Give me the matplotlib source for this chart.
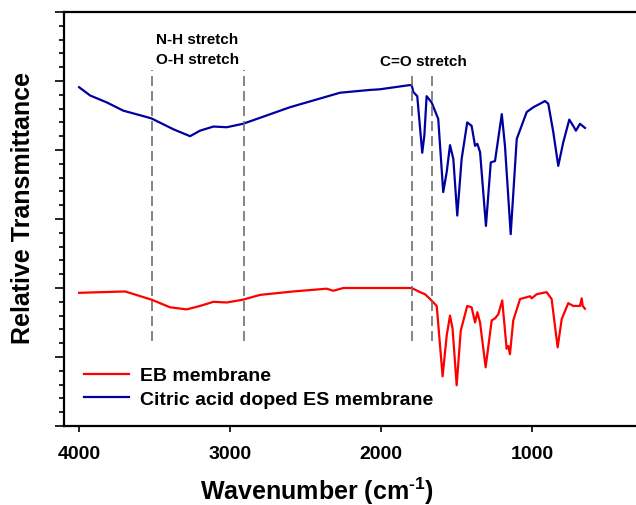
import matplotlib.pyplot as plt
from matplotlib.ticker import MultipleLocator, NullFormatter

plt.rcParams["font.family"] = ["Liberation Sans", "DejaVu Sans"]
plt.rcParams["font.weight"] = "bold"
plt.rcParams["mathtext.fontset"] = "custom"
plt.rcParams["mathtext.rm"] = "Liberation Sans:bold"
plt.rcParams["mathtext.bf"] = "Liberation Sans:bold"

# citric acid doped ES membrane (blue)
es_wn = [4000, 3927, 3817, 3707, 3523, 3375, 3265, 3199, 3110, 3022, 2914, 2823,
         2603, 2382, 2272, 2077, 2007, 1812, 1797, 1786, 1760, 1727, 1713, 1698,
         1665, 1621, 1588, 1565, 1543, 1521, 1495, 1466, 1429, 1400, 1377, 1362,
         1344, 1305, 1273, 1245, 1200, 1179, 1141, 1101, 1035, 991, 947, 914, 892,
         859, 826, 793, 753, 727, 709, 682, 649]
es_t = [49.1, 47.9, 46.9, 45.7, 44.6, 43.0, 42.0, 42.8, 43.4, 43.3, 43.8, 44.5,
        46.2, 47.6, 48.3, 48.7, 48.8, 49.4, 49.4, 48.4, 47.8, 39.6, 42.1, 47.8,
        46.9, 44.5, 33.9, 36.8, 40.7, 38.7, 30.5, 38.7, 44.0, 43.5, 40.6, 40.9,
        39.7, 29.0, 38.2, 38.4, 45.2, 40.6, 27.8, 41.6, 45.5, 46.2, 46.7, 47.1, 46.7,
        42.6, 37.7, 41.1, 44.4, 43.5, 42.8, 43.8, 43.2]

# EB membrane (red)
eb_wn = [4000, 3695, 3519, 3397, 3287, 3199, 3110, 3022, 2916, 2801, 2581, 2360,
         2316, 2250, 1918, 1797, 1742, 1709, 1675, 1631, 1592, 1565, 1543, 1526,
         1499, 1472, 1429, 1400, 1377, 1362, 1344, 1307, 1267, 1245, 1223, 1197,
         1168, 1157, 1146, 1124, 1079, 1013, 1002, 969, 903, 870, 830, 803, 760,
         727, 682, 671, 664, 649]
eb_t = [19.3, 19.5, 18.3, 17.2, 16.9, 17.4, 18.0, 17.9, 18.3, 19.0, 19.5, 19.9,
        19.6, 20.0, 20.0, 20.0, 19.4, 19.1, 18.4, 17.4, 7.2, 13.1, 16.0, 14.1,
        5.9, 13.8, 17.4, 17.2, 15.0, 16.5, 15.0, 8.5, 15.3, 15.6, 16.2, 18.2,
        11.2, 11.6, 10.4, 15.3, 18.4, 18.8, 18.5, 19.1, 19.4, 18.4, 11.4, 15.5, 17.8,
        17.4, 17.4, 18.5, 17.4, 17.0]

nh_lines = [3520, 2910]
co_lines = [1795, 1660]

fig = plt.figure(figsize=(6.36, 5.06), dpi=100)
ax = fig.add_axes([64 / 636, 79 / 506, 572 / 636, 414 / 506])

ax.plot(eb_wn, eb_t, color="#ff0000", lw=1.6, label="EB membrane")
ax.plot(es_wn, es_t, color="#0000a0", lw=1.6, label="Citric acid doped ES membrane")

for w in nh_lines:
    ax.plot([w, w], [12.3, 51.6], color="#707070", lw=1.2, dashes=(6, 3))
for w in co_lines:
    ax.plot([w, w], [12.3, 50.9], color="#707070", lw=1.2, dashes=(6, 3))

ax.text(3215, 56.1, "N-H stretch", ha="center", va="center", fontsize=11, fontweight="bold")
ax.text(3215, 53.2, "O-H stretch", ha="center", va="center", fontsize=11, fontweight="bold")
ax.text(1722, 52.9, "C=O stretch", ha="center", va="center", fontsize=11, fontweight="bold")

ax.set_xlim(4100, 311)
ax.set_ylim(0, 60)
ax.set_xticks([4000, 3000, 2000, 1000])
ax.yaxis.set_major_locator(MultipleLocator(10))
ax.yaxis.set_minor_locator(MultipleLocator(2))
ax.yaxis.set_major_formatter(NullFormatter())
ax.tick_params(axis="x", which="major", direction="out", length=4, width=1.2,
               labelsize=14, pad=10)
ax.tick_params(axis="y", which="major", direction="out", length=6.5, width=1.2)
ax.tick_params(axis="y", which="minor", direction="out", length=3.5, width=1.2)
for lab in ax.get_xticklabels():
    lab.set_fontweight("bold")

ax.spines["right"].set_visible(False)
for s in ["left", "bottom", "top"]:
    ax.spines[s].set_linewidth(1.6)

ax.set_xlabel(r"Wavenumber (cm$^{\text{-1}}$)", fontsize=18, fontweight="bold")
ax.xaxis.set_label_coords((317 - 64) / 572, (427 - 491) / 414)
ax.xaxis.label.set_va("center")
ax.set_ylabel("Relative Transmittance", fontsize=18, fontweight="bold")
ax.yaxis.set_label_coords((23 - 64) / 572, 0.53)
ax.yaxis.label.set_va("center")

ax.legend(loc="upper left", bbox_to_anchor=(0.022, 0.162), frameon=False, fontsize=14,
          handlelength=2.3, handletextpad=0.55, labelspacing=0.3, borderaxespad=0)

fig.savefig("out.png", dpi=100)
